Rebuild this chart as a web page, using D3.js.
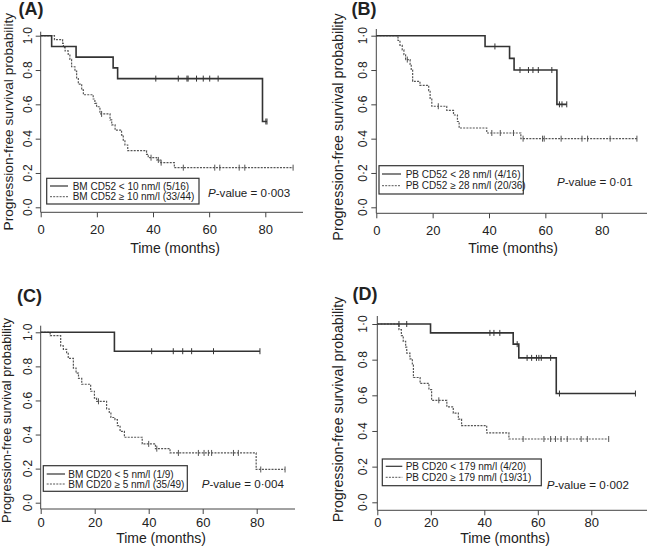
<!DOCTYPE html>
<html><head><meta charset="utf-8">
<script src="https://cdn.jsdelivr.net/npm/d3@7"></script>
<style>
body{margin:0;background:#fff}
svg{display:block}
text{font-family:"Liberation Sans",Arial,Helvetica,sans-serif;fill:#222}
</style>
</head><body>
<svg id="chart" width="648" height="546"></svg>
<script>
// ---------------- DATA ----------------
const xTicks = [0, 20, 40, 60, 80];
const yTicks = [0, 0.2, 0.4, 0.6, 0.8, 1.0];
const yTickLabels = ["0·0", "0·2", "0·4", "0·6", "0·8", "1·0"];
const panelTags = ["(A)", "(B)", "(C)", "(D)"];
const yTitle = "Progression-free survival probability";
const xTitle = "Time (months)";
const legendLow = ["BM CD52 < 10 nm/l (5/16)", "PB CD52 < 28 nm/l (4/16)", "BM CD20 < 5 nm/l (1/9)", "PB CD20 < 179 nm/l (4/20)"];
const legendHigh = ["BM CD52 ≥ 10 nm/l (33/44)", "PB CD52 ≥ 28 nm/l (20/36)", "BM CD20 ≥ 5 nm/l (35/49)", "PB CD20 ≥ 179 nm/l (19/31)"];
const pValues = ["0·003", "0·01", "0·004", "0·002"];

// Panel A: BM CD52
const aLowTime = [0, 3.9, 12.6, 25.8, 27.4, 79.0];
const aLowSurv = [1, 0.9375, 0.875, 0.8125, 0.75, 0.5];
const aLowCens = [41.0, 49.0, 52.1, 52.5, 55.5, 57.9, 60.2, 63.2, 80.2, 80.6];
const aHighTime = [0, 4.9, 7.8, 8.1, 8.7, 9.8, 10.4, 11.0, 12.2, 12.8, 13.4, 14.6, 15.2, 18.7, 19.3, 19.9, 21.1, 24.7, 25.3, 26.5, 28.8, 29.4, 30.0, 31.0, 37.7, 38.3, 41.3, 42.5, 47.6];
const aHighSurv = [1, 0.977, 0.955, 0.930, 0.911, 0.891, 0.862, 0.819, 0.794, 0.750, 0.718, 0.684, 0.656, 0.631, 0.606, 0.586, 0.544, 0.509, 0.480, 0.450, 0.421, 0.392, 0.363, 0.330, 0.309, 0.289, 0.276, 0.260, 0.231];
const aHighCens = [21.7, 39.3, 41.9, 42.9, 50.8, 62.0, 63.8, 70.7, 72.7, 89.9];

// Panel B: PB CD52
const bLowTime = [0, 38.6, 47.3, 48.9, 64.1];
const bLowSurv = [1, 0.9375, 0.868, 0.80, 0.60];
const bLowCens = [42.1, 51.0, 54.0, 55.6, 57.5, 62.3, 65.0, 65.9, 67.6];
const bHighTime = [0, 7.7, 8.4, 9.2, 9.8, 10.4, 12.0, 12.4, 12.9, 15.5, 18.6, 19.1, 19.7, 25.0, 27.4, 28.8, 29.4, 39.2, 51.3];
const bHighSurv = [1, 0.972, 0.944, 0.917, 0.889, 0.861, 0.833, 0.80, 0.734, 0.711, 0.68, 0.63, 0.589, 0.565, 0.538, 0.50, 0.462, 0.433, 0.40];
const bHighCens = [11.0, 22.0, 41.0, 44.0, 48.7, 52.1, 59.0, 59.6, 65.6, 73.0, 75.0, 83.0, 92.5];

// Panel C: BM CD20
const cLowTime = [0, 27.3];
const cLowSurv = [1, 0.889];
const cLowCens = [41.1, 49.1, 52.6, 55.9, 64.0, 81.2];
const cHighTime = [0, 3.5, 7.4, 8.4, 9.6, 10.2, 12.1, 13.1, 14.0, 15.2, 18.5, 19.9, 20.7, 24.4, 25.4, 26.0, 27.5, 28.4, 29.4, 31.0, 37.6, 42.5, 47.9, 79.8];
const cHighSurv = [1, 0.98, 0.92, 0.90, 0.88, 0.847, 0.79, 0.76, 0.73, 0.695, 0.654, 0.614, 0.595, 0.55, 0.53, 0.50, 0.487, 0.452, 0.419, 0.384, 0.345, 0.317, 0.292, 0.195];
const cHighCens = [21.4, 40.0, 43.0, 51.0, 58.4, 60.5, 62.1, 63.3, 71.4, 73.2, 81.5, 90.5];

// Panel D: PB CD20
const dLowTime = [0, 19.9, 50.8, 52.9, 66.9];
const dLowSurv = [1, 0.95, 0.887, 0.81, 0.61];
const dLowCens = [8.1, 11.0, 42.1, 43.6, 45.8, 52.3, 56.0, 57.7, 59.5, 60.4, 61.3, 64.8, 68.1, 96.5];
const dHighTime = [0, 8.1, 9.0, 9.7, 10.6, 11.0, 12.2, 13.1, 13.5, 16.0, 19.3, 20.3, 26.0, 28.4, 30.3, 31.5, 40.9, 49.2];
const dHighSurv = [1, 0.968, 0.935, 0.903, 0.87, 0.837, 0.804, 0.77, 0.70, 0.667, 0.632, 0.572, 0.535, 0.50, 0.467, 0.43, 0.389, 0.355];
const dHighCens = [23.0, 54.5, 62.3, 64.8, 66.6, 68.7, 71.0, 76.2, 78.5, 86.5];

// ---------------- LAYOUT (pixels) ----------------
const layout = [
  {x0:40.7, x80:265.3, xRight:303, y1:35.7, y0:207.3, axTop:31.7, axBot:212.3, tickPad:7.7,
   tagX:31, tagY:15, yLabX:8, yLabY:121.7, yLabFs:13.7, yTickX:28, xTitleX:175, xTitleY:248.3,
   lgX:46.7, lgY:178.3, lgW:152.3, lgH:25.7, row1:186, row2:196.7, lsX1:50, lsX2:68, ltX:72.7,
   pX:208, pY:192.7},
  {x0:376.3, x80:601.7, xRight:647, y1:35.7, y0:207.3, axTop:29, axBot:213.3, tickPad:7.7,
   tagX:364, tagY:15, yLabX:338, yLabY:127, yLabFs:14.3, yTickX:363, xTitleX:513, xTitleY:248.3,
   lgX:379, lgY:165.7, lgW:144.3, lgH:28.3, row1:174, row2:185.7, lsX1:382, lsX2:401, ltX:405.7,
   pX:557, pY:181.7},
  {x0:40.7, x80:256.7, xRight:295, y1:332.3, y0:502.7, axTop:325.7, axBot:509, tickPad:4,
   tagX:29.5, tagY:301.5, yLabX:6, yLabY:420.5, yLabFs:12.9, yTickX:27.5, xTitleX:161, xTitleY:538,
   lgX:43.3, lgY:465.7, lgW:144, lgH:25.6, row1:474, row2:484, lsX1:46.7, lsX2:65, ltX:68.3,
   pX:201.7, pY:484},
  {x0:377.3, x80:591.3, xRight:647, y1:324, y0:502.3, axTop:316, axBot:510.3, tickPad:2,
   tagX:365, tagY:300, yLabX:338, yLabY:409.5, yLabFs:14.2, yTickX:363, xTitleX:505, xTitleY:538,
   lgX:382.3, lgY:459, lgW:159, lgH:26.7, row1:466.3, row2:477.3, lsX1:385.7, lsX2:402.3, ltX:405.7,
   pX:546.7, pY:484.7}
];

const lowCurves = [[aLowTime, aLowSurv, aLowCens], [bLowTime, bLowSurv, bLowCens], [cLowTime, cLowSurv, cLowCens], [dLowTime, dLowSurv, dLowCens]];
const highCurves = [[aHighTime, aHighSurv, aHighCens], [bHighTime, bHighSurv, bHighCens], [cHighTime, cHighSurv, cHighCens], [dHighTime, dHighSurv, dHighCens]];

const solidStyle = {stroke:"#333", width:1.6, dash:null};
const dashStyle = {stroke:"#555", width:1.2, dash:"2,1.2"};
const axisColor = "#444";

// ---------------- DRAW ----------------
const svg = d3.select("#chart");

layout.forEach((L, i) => {
  const g = svg.append("g");
  const x = d3.scaleLinear().domain([0, 80]).range([L.x0, L.x80]);
  const y = d3.scaleLinear().domain([0, 1]).range([L.y0, L.y1]);

  // L-shaped frame
  g.append("line").attr("x1", L.x0).attr("x2", L.x0).attr("y1", L.axTop).attr("y2", L.axBot)
    .attr("stroke", axisColor).attr("stroke-width", 1);
  g.append("line").attr("x1", L.x0).attr("x2", L.xRight).attr("y1", L.axBot).attr("y2", L.axBot)
    .attr("stroke", axisColor).attr("stroke-width", 1);

  // x axis ticks/labels
  const xa = g.append("g").attr("transform", `translate(0,${L.axBot})`)
    .call(d3.axisBottom(x).tickValues(xTicks).tickSize(5).tickPadding(L.tickPad).tickFormat(d3.format("d")));
  xa.select(".domain").remove();
  xa.selectAll("line").attr("stroke", axisColor);
  xa.selectAll("text").attr("font-size", 13).attr("font-family", '"Liberation Sans",Arial,sans-serif').attr("fill", "#222");

  // y axis ticks
  const ya = g.append("g").attr("transform", `translate(${L.x0},0)`)
    .call(d3.axisLeft(y).tickValues(yTicks).tickSize(5).tickFormat(""));
  ya.select(".domain").remove();
  ya.selectAll("line").attr("stroke", axisColor);
  // rotated y tick labels
  yTicks.forEach((v, k) => {
    g.append("text")
      .attr("transform", `translate(${L.yTickX},${y(v)}) rotate(-90)`)
      .attr("text-anchor", "middle").attr("dy", "0.35em")
      .attr("font-size", 12)
      .text(yTickLabels[k]);
  });

  // titles
  g.append("text")
    .attr("transform", `translate(${L.yLabX},${L.yLabY}) rotate(-90)`)
    .attr("text-anchor", "middle").attr("dy", "0.35em")
    .attr("font-size", L.yLabFs)
    .text(yTitle);
  g.append("text").attr("x", L.xTitleX).attr("y", L.xTitleY).attr("dy", "0.35em")
    .attr("text-anchor", "middle").attr("font-size", 14).text(xTitle);
  g.append("text").attr("x", L.tagX).attr("y", L.tagY).attr("text-anchor", "middle")
    .attr("font-size", 18).attr("font-weight", "bold").attr("fill", "#111").text(panelTags[i]);

  // curves
  function drawCurve(curve, st) {
    const [times, surv, cens] = curve;
    const pts = times.map((t, k) => [t, surv[k]]);
    const tEnd = Math.max(times[times.length - 1], d3.max(cens));
    pts.push([tEnd, surv[surv.length - 1]]);
    const line = d3.line().x(d => x(d[0])).y(d => y(d[1])).curve(d3.curveStepAfter);
    const p = g.append("path").attr("d", line(pts)).attr("fill", "none")
      .attr("stroke", st.stroke).attr("stroke-width", st.width);
    if (st.dash) p.attr("stroke-dasharray", st.dash);
    cens.forEach(c => {
      const idx = d3.bisectRight(times, c) - 1;
      const s = surv[Math.max(0, idx)];
      g.append("line").attr("x1", x(c)).attr("x2", x(c))
        .attr("y1", y(s) - 3).attr("y2", y(s) + 3)
        .attr("stroke", st.stroke).attr("stroke-width", 1);
    });
  }
  drawCurve(highCurves[i], dashStyle);
  drawCurve(lowCurves[i], solidStyle);

  // legend
  g.append("rect").attr("x", L.lgX).attr("y", L.lgY).attr("width", L.lgW).attr("height", L.lgH)
    .attr("fill", "#fff").attr("stroke", "#333").attr("stroke-width", 1.2);
  [[L.row1, solidStyle, legendLow[i]], [L.row2, dashStyle, legendHigh[i]]].forEach(([ry, st, label]) => {
    const ln = g.append("line").attr("x1", L.lsX1).attr("x2", L.lsX2).attr("y1", ry).attr("y2", ry)
      .attr("stroke", st.stroke).attr("stroke-width", st.width === 1.6 ? 1.2 : 1);
    if (st.dash) ln.attr("stroke-dasharray", st.dash);
    g.append("text").attr("x", L.ltX).attr("y", ry).attr("dy", "0.35em")
      .attr("font-size", 10).attr("fill", "#333").text(label);
  });

  // p-value
  const pt = g.append("text").attr("x", L.pX).attr("y", L.pY).attr("dy", "0.35em").attr("font-size", 11.6);
  pt.append("tspan").attr("font-style", "italic").text("P");
  pt.append("tspan").text("-value = " + pValues[i]);
});
</script>
</body></html>
